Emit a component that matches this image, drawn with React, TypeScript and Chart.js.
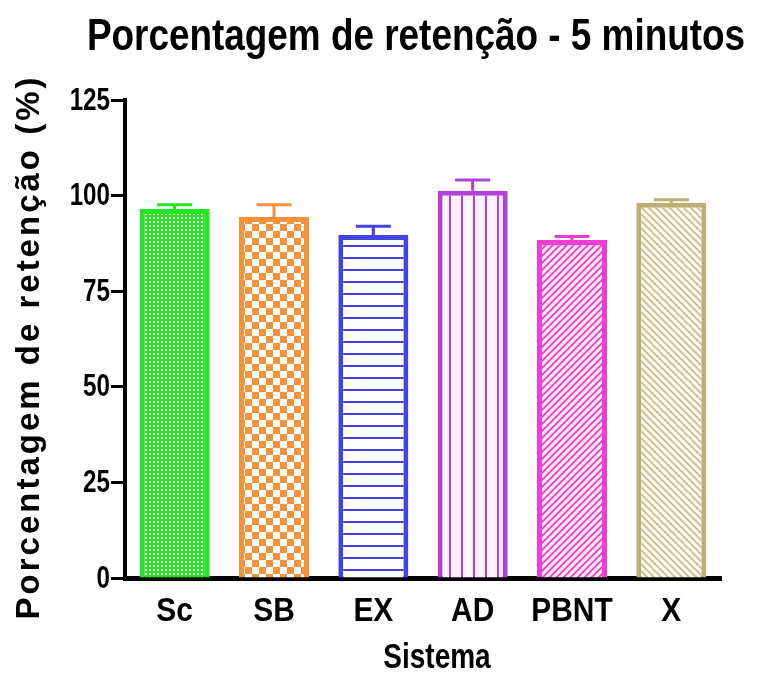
import React, { useEffect, useRef } from 'react';
import { Chart, registerables } from 'chart.js';

Chart.register(...registerables);

const categories = ['Sc', 'SB', 'EX', 'AD', 'PBNT', 'X'];
const means = [96.5, 94.4, 89.7, 101.3, 88.4, 98.1];
const errors = [1.1, 3.2, 2.3, 2.8, 0.9, 0.8];
const borderColors = ['#22E622', '#F5923A', '#4343E0', '#B041D9', '#F03CD3', '#BCAE74'];
const patternKinds = ['fine', 'checker', 'hlines', 'vlines', 'diagUp', 'diagDown'];
const yTicks = [0, 25, 50, 75, 100, 125];
const titleText = 'Porcentagem de retenção - 5 minutos';
const yTitleText = 'Porcentagem de retenção (%)';
const xTitleText = 'Sistema';

const WIDE = "'Liberation Sans', Arial, sans-serif";

function makePattern(kind: string, color: string): CanvasPattern | string {
  const c = document.createElement('canvas');
  const ctx = c.getContext('2d');
  if (!ctx) return color;
  if (kind === 'fine') {
    c.width = 4; c.height = 4;
    ctx.fillStyle = color; ctx.fillRect(0, 0, 4, 4);
    ctx.fillStyle = '#ffffff'; ctx.fillRect(1, 1, 2, 2);
  } else if (kind === 'checker') {
    c.width = 14; c.height = 14;
    ctx.fillStyle = '#ffffff'; ctx.fillRect(0, 0, 14, 14);
    ctx.fillStyle = color; ctx.fillRect(0, 0, 7, 7); ctx.fillRect(7, 7, 7, 7);
  } else if (kind === 'hlines') {
    c.width = 4; c.height = 12;
    ctx.fillStyle = '#ffffff'; ctx.fillRect(0, 0, 4, 12);
    ctx.fillStyle = color; ctx.fillRect(0, 5, 4, 2);
  } else if (kind === 'vlines') {
    c.width = 12; c.height = 4;
    ctx.fillStyle = '#fcf2fc'; ctx.fillRect(0, 0, 12, 4);
    ctx.fillStyle = color; ctx.fillRect(5, 0, 2, 4);
  } else {
    const s = 7;
    c.width = s; c.height = s;
    ctx.fillStyle = kind === 'diagUp' ? '#fde8f8' : '#fcfaf0';
    ctx.fillRect(0, 0, s, s);
    ctx.strokeStyle = kind === 'diagUp' ? color : '#c8bd92';
    ctx.lineWidth = 1.8;
    ctx.beginPath();
    if (kind === 'diagUp') {
      ctx.moveTo(-1, s + 1); ctx.lineTo(s + 1, -1);
      ctx.moveTo(-1, 1); ctx.lineTo(1, -1);
      ctx.moveTo(s - 1, s + 1); ctx.lineTo(s + 1, s - 1);
    } else {
      ctx.moveTo(-1, -1); ctx.lineTo(s + 1, s + 1);
      ctx.moveTo(s - 1, -1); ctx.lineTo(s + 1, 1);
      ctx.moveTo(-1, s - 1); ctx.lineTo(1, s + 1);
    }
    ctx.stroke();
  }
  const p = ctx.createPattern(c, 'repeat');
  return p || color;
}

const errorBarPlugin = {
  id: 'errorBars',
  afterDatasetsDraw(chart: any) {
    const ctx = chart.ctx;
    const meta = chart.getDatasetMeta(0);
    const yScale = chart.scales.y;
    ctx.save();
    meta.data.forEach((bar: any, i: number) => {
      const top = yScale.getPixelForValue(means[i] + errors[i]);
      const w = bar.width / 2;
      ctx.strokeStyle = borderColors[i];
      ctx.lineWidth = 3;
      ctx.beginPath();
      ctx.moveTo(bar.x, bar.y);
      ctx.lineTo(bar.x, top);
      ctx.moveTo(bar.x - w / 2, top);
      ctx.lineTo(bar.x + w / 2, top);
      ctx.stroke();
    });
    ctx.restore();
  },
};

function squishText(ctx: any, text: string, x: number, y: number, font: string, sx: number, align: string, baseline: string) {
  ctx.save();
  ctx.translate(x, y);
  ctx.scale(sx, 1);
  ctx.font = font;
  ctx.textAlign = align;
  ctx.textBaseline = baseline;
  ctx.fillText(text, 0, 0);
  ctx.restore();
}

const labelsPlugin = {
  id: 'labels',
  afterDraw(chart: any) {
    const ctx = chart.ctx;
    const area = chart.chartArea;
    const xScale = chart.scales.x;
    const yScale = chart.scales.y;
    ctx.save();
    ctx.fillStyle = '#000000';
    // y tick labels
    yTicks.forEach((v) => {
      squishText(ctx, String(v), 110, yScale.getPixelForValue(v) + 1, `bold 31px ${WIDE}`, 0.78, 'right', 'middle');
    });
    // x tick labels
    categories.forEach((c, i) => {
      squishText(ctx, c, xScale.getPixelForValue(i), 612, `bold 34px ${WIDE}`, 0.88, 'center', 'middle');
    });
    // main title
    squishText(ctx, titleText, 416, 50, `bold 45px ${WIDE}`, 0.82, 'center', 'alphabetic');
    // x title
    squishText(ctx, xTitleText, 437, 668, `bold 35px ${WIDE}`, 0.8, 'center', 'alphabetic');
    // y title
    ctx.save();
    ctx.translate(30, (area.top + area.bottom) / 2 + 8);
    ctx.rotate(-Math.PI / 2);
    ctx.textAlign = 'center';
    ctx.textBaseline = 'middle';
    ctx.font = `bold 33px ${WIDE}`;
    ctx.letterSpacing = '3px';
    ctx.fillText(yTitleText, 0, 0);
    ctx.restore();
    ctx.restore();
  },
};

export default function App() {
  const ref = useRef<HTMLCanvasElement | null>(null);
  useEffect(() => {
    if (!ref.current) return;
    const bgs = categories.map((_, i) => makePattern(patternKinds[i], borderColors[i]));
    const chart = new Chart(ref.current, {
      type: 'bar',
      data: {
        labels: categories,
        datasets: [
          {
            data: means,
            backgroundColor: bgs as any,
            borderColor: borderColors,
            borderWidth: 5,
            barPercentage: 0.705,
            categoryPercentage: 1,
          },
        ],
      },
      options: {
        responsive: false,
        animation: false,
        layout: { padding: { top: 100, right: 40, left: 0, bottom: 0 } },
        plugins: { legend: { display: false }, title: { display: false }, tooltip: { enabled: false } },
        scales: {
          x: {
            grid: { display: false },
            border: { display: true, color: '#000000', width: 5 },
            ticks: { display: false },
            afterFit(scale: any) { scale.height = 97; },
          },
          y: {
            min: 0,
            max: 125,
            afterBuildTicks(scale: any) { scale.ticks = yTicks.map((v) => ({ value: v })); },
            grid: { drawOnChartArea: false, drawTicks: true, tickLength: 14, tickWidth: 3, tickColor: '#000000' },
            border: { display: true, color: '#000000', width: 4 },
            ticks: { display: false },
            afterFit(scale: any) { scale.width = 125; },
          },
        },
      },
      plugins: [errorBarPlugin, labelsPlugin],
    });
    return () => chart.destroy();
  }, []);
  return (
    <div style={{ position: 'fixed', left: 0, top: 0, width: 761, height: 675, background: '#ffffff' }}>
      <canvas ref={ref} width={761} height={675} />
    </div>
  );
}
